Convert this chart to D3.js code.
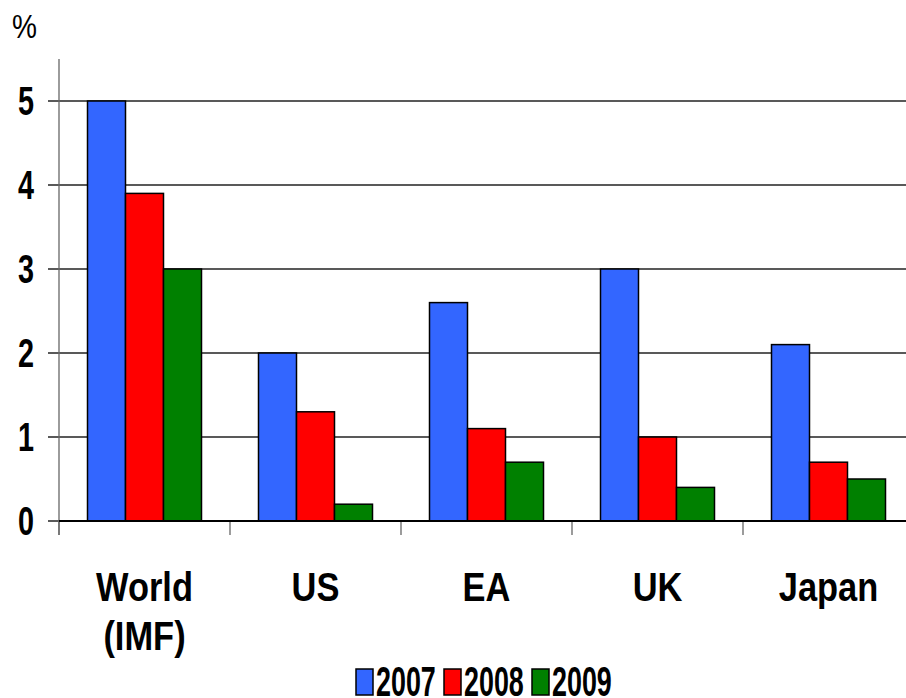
<!DOCTYPE html>
<html>
<head>
<meta charset="utf-8">
<script src="https://cdn.jsdelivr.net/npm/d3@7"></script>
<style>
  html, body { margin: 0; padding: 0; background: #fff; }
  svg { display: block; }
  text { font-family: "Liberation Sans", Arial, sans-serif; fill: #000; }
</style>
</head>
<body>
<svg id="chart" width="906" height="698"></svg>
<script>
// Growth by economy, per cent
const categories = ["World|(IMF)", "US", "EA", "UK", "Japan"];
const years = ["2007", "2008", "2009"];
const values2007 = [5.0, 2.0, 2.6, 3.0, 2.1];
const values2008 = [3.9, 1.3, 1.1, 1.0, 0.7];
const values2009 = [3.0, 0.2, 0.7, 0.4, 0.5];
const yTicks = [0, 1, 2, 3, 4, 5];
const colors = ["#3366FF", "#FF0000", "#008000"];

const series = [values2007, values2008, values2009];

const svg = d3.select("#chart");
const left = 59, bandStep = 171;

// Condensed lettering: place at (px, py) and squeeze horizontally
const squeeze = (px, py, sx) => `translate(${px},${py}) scale(${sx},1)`;

const x = d3.scaleBand()
  .domain(categories)
  .range([left, left + bandStep * categories.length])
  .paddingInner(0).paddingOuter(0);

const xSub = d3.scaleBand()
  .domain(years)
  .range([0, x.bandwidth()])
  .paddingInner(0).paddingOuter(0.75);

const y = d3.scaleLinear().domain([0, 5]).range([521, 101]);
const color = d3.scaleOrdinal().domain(years).range(colors);

// Horizontal gridlines with their left tick stubs
svg.append("g").selectAll("line").data(yTicks).join("line")
  .attr("x1", left - 11).attr("x2", 906)
  .attr("y1", d => y(d)).attr("y2", d => y(d))
  .attr("stroke", "#222").attr("stroke-width", 1.3);

// Vertical axis line
svg.append("line")
  .attr("x1", left).attr("x2", left)
  .attr("y1", y(5.5)).attr("y2", y(0) + 14)
  .attr("stroke", "#666").attr("stroke-width", 1.3);

// Category boundary ticks below the baseline
const bounds = categories.map(c => x(c)).concat([x.range()[1]]);
svg.append("g").selectAll("line").data(bounds).join("line")
  .attr("x1", d => d).attr("x2", d => d)
  .attr("y1", y(0)).attr("y2", y(0) + 14)
  .attr("stroke", "#666").attr("stroke-width", 1.3);

// Bars
const rows = categories.map((c, i) => years.map((yr, j) => ({ cat: c, year: yr, value: series[j][i] })));
svg.append("g").selectAll("g").data(rows).join("g")
  .attr("transform", d => `translate(${x(d[0].cat)},0)`)
  .selectAll("rect").data(d => d).join("rect")
  .attr("x", d => xSub(d.year))
  .attr("width", xSub.bandwidth())
  .attr("y", d => y(d.value))
  .attr("height", d => y(0) - y(d.value))
  .attr("fill", d => color(d.year))
  .attr("stroke", "#000").attr("stroke-width", 1.5);

// Baseline
svg.append("line")
  .attr("x1", left).attr("x2", 906)
  .attr("y1", y(0)).attr("y2", y(0))
  .attr("stroke", "#000").attr("stroke-width", 2);

// Y tick labels
svg.append("g").selectAll("text").data(yTicks).join("text")
  .attr("transform", d => squeeze(34, y(d), 0.72))
  .attr("dy", "0.36em")
  .attr("text-anchor", "end")
  .attr("font-size", 40).attr("font-weight", "bold")
  .text(d => d);

// Unit label
svg.append("text")
  .attr("transform", squeeze(12, 38, 0.85))
  .attr("font-size", 33)
  .text("%");

// Category labels
const catLabels = svg.append("g").selectAll("text").data(categories).join("text")
  .attr("transform", d => squeeze(x(d) + x.bandwidth() / 2, 601, 0.84))
  .attr("text-anchor", "middle")
  .attr("font-size", 41).attr("font-weight", "bold");
catLabels.selectAll("tspan").data(d => d.split("|")).join("tspan")
  .attr("x", 0)
  .attr("dy", (d, i) => i === 0 ? 0 : 49)
  .text(d => d);

// Legend
const legendLeft = 356, legendStep = 88;
const legend = svg.append("g").selectAll("g").data(years).join("g")
  .attr("transform", (d, i) => `translate(${legendLeft + i * legendStep},669)`);
legend.append("rect")
  .attr("width", 17).attr("height", 26)
  .attr("fill", d => color(d))
  .attr("stroke", "#000").attr("stroke-width", 1.5);
legend.append("text")
  .attr("transform", squeeze(20, 27, 0.64))
  .attr("font-size", 42).attr("font-weight", "bold")
  .text(d => d);
</script>
</body>
</html>
